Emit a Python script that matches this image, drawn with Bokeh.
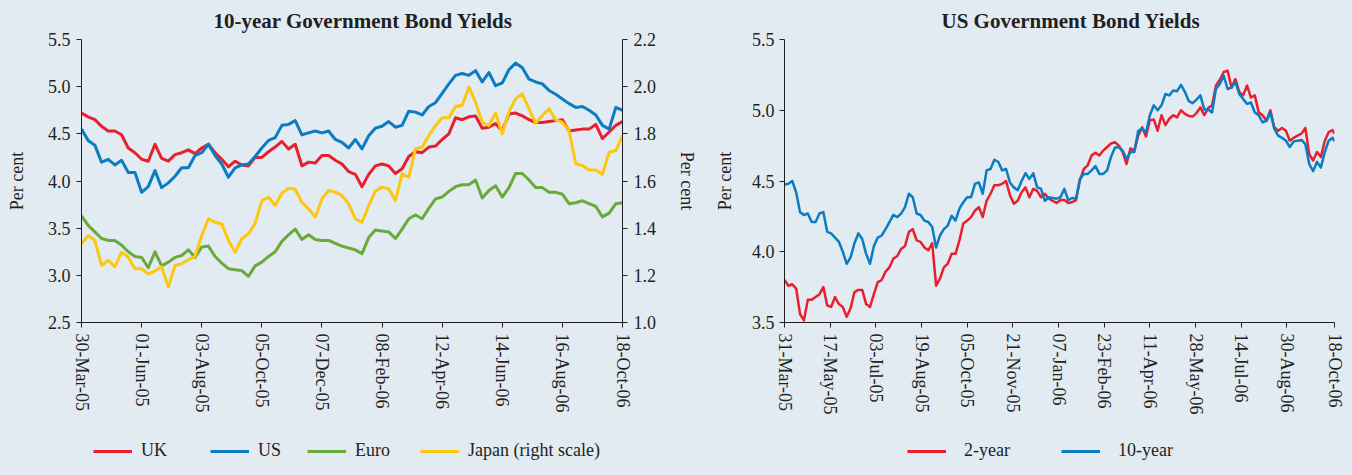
import pandas as pd
from bokeh.plotting import figure
from bokeh.models import (Range1d, LinearAxis, FixedTicker, DatetimeTickFormatter,
                          PrintfTickFormatter, Legend, LegendItem)
from bokeh.layouts import row, column
from bokeh.embed import file_html
from bokeh.resources import INLINE

# ---------------- data ----------------
left_title = "10-year Government Bond Yields"
right_title = "US Government Bond Yields"
left_start = "2005-03-30"          # weekly observations
right_start = "2005-03-31"         # every 4 days
right_last = "2006-10-18"

left_ticks = ["30-Mar-05", "01-Jun-05", "03-Aug-05", "05-Oct-05", "07-Dec-05",
              "08-Feb-06", "12-Apr-06", "14-Jun-06", "16-Aug-06", "18-Oct-06"]
right_ticks = ["31-Mar-05", "17-May-05", "03-Jul-05", "19-Aug-05", "05-Oct-05",
               "21-Nov-05", "07-Jan-06", "23-Feb-06", "11-Apr-06", "28-May-06",
               "14-Jul-06", "30-Aug-06", "18-Oct-06"]
left_yticks = [2.5, 3.0, 3.5, 4.0, 4.5, 5.0, 5.5]
japan_yticks = [1.0, 1.2, 1.4, 1.6, 1.8, 2.0, 2.2]
right_yticks = [3.5, 4.0, 4.5, 5.0, 5.5]

left_labels = ["UK", "US", "Euro", "Japan (right scale)"]
right_labels = ["2-year", "10-year"]

uk = [4.72, 4.68, 4.65, 4.58, 4.53, 4.53, 4.49, 4.35, 4.30, 4.23,
      4.21, 4.39, 4.24, 4.21, 4.28, 4.30, 4.33, 4.29, 4.35, 4.39,
      4.30, 4.23, 4.15, 4.21, 4.17, 4.16, 4.25, 4.25, 4.31, 4.36,
      4.42, 4.34, 4.39, 4.16, 4.20, 4.19, 4.27, 4.27, 4.22, 4.18,
      4.10, 4.07, 3.94, 4.07, 4.16, 4.18, 4.16, 4.08, 4.13, 4.26,
      4.31, 4.30, 4.36, 4.37, 4.44, 4.50, 4.67, 4.65, 4.68, 4.69,
      4.56, 4.57, 4.61, 4.53, 4.71, 4.72, 4.69, 4.65, 4.62, 4.62,
      4.63, 4.64, 4.65, 4.53, 4.54, 4.55, 4.55, 4.60, 4.45, 4.52,
      4.59, 4.63]
us = [4.55, 4.43, 4.38, 4.20, 4.23, 4.17, 4.22, 4.09, 4.09, 3.88,
      3.94, 4.11, 3.93, 3.98, 4.05, 4.14, 4.14, 4.27, 4.30, 4.39,
      4.27, 4.18, 4.04, 4.14, 4.17, 4.18, 4.26, 4.35, 4.43, 4.46,
      4.59, 4.60, 4.64, 4.49, 4.51, 4.53, 4.51, 4.53, 4.44, 4.41,
      4.35, 4.44, 4.34, 4.48, 4.56, 4.58, 4.63, 4.57, 4.59, 4.74,
      4.73, 4.70, 4.79, 4.83, 4.93, 5.03, 5.12, 5.14, 5.12, 5.17,
      5.05, 5.15, 5.01, 5.04, 5.18, 5.25, 5.20, 5.08, 5.05, 5.03,
      4.96, 4.92, 4.87, 4.82, 4.78, 4.79, 4.75, 4.70, 4.59, 4.55,
      4.78, 4.75]
euro = [3.63, 3.53, 3.46, 3.39, 3.37, 3.37, 3.32, 3.25, 3.20, 3.19,
        3.08, 3.25, 3.10, 3.14, 3.19, 3.21, 3.27, 3.19, 3.30, 3.31,
        3.20, 3.13, 3.07, 3.06, 3.05, 2.99, 3.10, 3.14, 3.20, 3.25,
        3.36, 3.43, 3.49, 3.38, 3.43, 3.38, 3.37, 3.37, 3.34, 3.31,
        3.29, 3.27, 3.23, 3.40, 3.48, 3.47, 3.46, 3.39, 3.49, 3.60,
        3.64, 3.60, 3.71, 3.81, 3.83, 3.89, 3.94, 3.96, 3.96, 4.01,
        3.82, 3.90, 3.95, 3.83, 3.93, 4.08, 4.08, 4.01, 3.93, 3.93,
        3.88, 3.88, 3.86, 3.76, 3.77, 3.79, 3.76, 3.73, 3.62, 3.66,
        3.76, 3.77]
japan = [1.334, 1.369, 1.348, 1.242, 1.263, 1.237, 1.298, 1.277, 1.228, 1.228,
         1.206, 1.218, 1.237, 1.150, 1.242, 1.249, 1.266, 1.280, 1.369, 1.440,
         1.425, 1.418, 1.348, 1.298, 1.355, 1.376, 1.421, 1.517, 1.531, 1.496,
         1.548, 1.569, 1.565, 1.510, 1.482, 1.447, 1.524, 1.560, 1.553, 1.538,
         1.503, 1.440, 1.425, 1.496, 1.557, 1.574, 1.567, 1.517, 1.630, 1.616,
         1.736, 1.743, 1.793, 1.835, 1.868, 1.868, 1.916, 1.921, 1.998, 1.934,
         1.849, 1.835, 1.888, 1.800, 1.893, 1.948, 1.970, 1.906, 1.845, 1.878,
         1.906, 1.859, 1.849, 1.814, 1.673, 1.666, 1.647, 1.647, 1.628, 1.722,
         1.729, 1.793]

us_2y = [3.80, 3.76, 3.77, 3.74, 3.56, 3.515, 3.66, 3.66, 3.68, 3.70,
         3.75, 3.62, 3.61, 3.68, 3.63, 3.61, 3.54, 3.60, 3.715, 3.73,
         3.73, 3.63, 3.61, 3.70, 3.785, 3.80, 3.86, 3.89, 3.95, 3.97,
         4.02, 4.04, 4.14, 4.16, 4.08, 4.07, 4.03, 4.01, 4.06, 3.76,
         3.81, 3.89, 3.915, 3.985, 3.985, 4.08, 4.20, 4.22, 4.245, 4.29,
         4.315, 4.245, 4.36, 4.41, 4.47, 4.47, 4.48, 4.50, 4.40, 4.34,
         4.36, 4.42, 4.455, 4.385, 4.445, 4.43, 4.385, 4.41, 4.375, 4.36,
         4.345, 4.365, 4.365, 4.345, 4.35, 4.365, 4.505, 4.585, 4.61, 4.68,
         4.70, 4.68, 4.715, 4.74, 4.765, 4.775, 4.75, 4.705, 4.62, 4.73,
         4.715, 4.82, 4.88, 4.815, 4.93, 4.935, 4.855, 4.965, 4.895, 4.94,
         4.965, 4.95, 5.00, 4.975, 4.96, 4.955, 4.98, 5.02, 4.965, 5.015,
         5.035, 5.175, 5.215, 5.27, 5.28, 5.16, 5.22, 5.13, 5.105, 5.175,
         5.09, 5.105, 4.985, 4.965, 4.925, 5.00, 4.88, 4.855, 4.875, 4.855,
         4.785, 4.805, 4.82, 4.835, 4.875, 4.69, 4.645, 4.705, 4.67, 4.785,
         4.845, 4.86, 4.835]
us_10y = [4.475, 4.48, 4.50, 4.42, 4.28, 4.26, 4.27, 4.21, 4.21, 4.27,
          4.28, 4.14, 4.13, 4.10, 4.07, 4.00, 3.915, 3.96, 4.06, 4.13,
          4.09, 3.985, 3.915, 4.04, 4.10, 4.115, 4.16, 4.21, 4.26, 4.245,
          4.27, 4.315, 4.41, 4.385, 4.27, 4.26, 4.22, 4.21, 4.175, 4.03,
          4.115, 4.16, 4.185, 4.255, 4.22, 4.305, 4.35, 4.385, 4.385, 4.48,
          4.49, 4.41, 4.575, 4.585, 4.65, 4.635, 4.575, 4.585, 4.49, 4.455,
          4.435, 4.50, 4.555, 4.515, 4.555, 4.455, 4.445, 4.36, 4.385, 4.38,
          4.375, 4.385, 4.445, 4.365, 4.38, 4.375, 4.515, 4.55, 4.55, 4.575,
          4.605, 4.55, 4.55, 4.575, 4.67, 4.735, 4.74, 4.715, 4.655, 4.705,
          4.705, 4.855, 4.87, 4.845, 4.965, 5.035, 5.00, 5.035, 5.115, 5.105,
          5.14, 5.135, 5.18, 5.13, 5.065, 5.05, 5.075, 5.105, 5.005, 5.005,
          4.985, 5.15, 5.185, 5.245, 5.15, 5.16, 5.20, 5.115, 5.08, 5.045,
          5.055, 4.985, 4.965, 4.915, 4.925, 4.985, 4.87, 4.82, 4.805, 4.785,
          4.74, 4.78, 4.785, 4.79, 4.76, 4.62, 4.57, 4.635, 4.595, 4.705,
          4.785, 4.805, 4.78]

# ---------------- style ----------------
BG = "#e2eaf2"
INK = "#231f20"
RED = "#e8202e"
BLUE = "#0a7cc1"
GREEN = "#6aaa3a"
YELLOW = "#fcc80f"
FONT = "Liberation Serif"
FS = "18px"
MAIN_H = 430
LEG_H = 45
W1 = 705
W2 = 1352 - W1

left_dates = pd.date_range(left_start, periods=len(uk), freq="7D")
right_dates = pd.date_range(right_start, periods=len(us_2y) - 1, freq="4D").append(
    pd.DatetimeIndex([pd.Timestamp(right_last)]))


def ms(labels):
    return [pd.to_datetime(s, format="%d-%b-%y").timestamp() * 1000 for s in labels]


def date_fmt():
    f = "%d-%b-%y"
    return DatetimeTickFormatter(milliseconds=f, seconds=f, minsec=f, minutes=f, hourmin=f,
                                 hours=f, days=f, months=f, years=f)


def style_axis(ax, standoff=18):
    ax.axis_line_color = INK
    ax.axis_line_width = 1
    ax.major_tick_line_color = INK
    ax.major_tick_in = 0
    ax.major_tick_out = 5
    ax.minor_tick_line_color = None
    ax.major_label_text_font = FONT
    ax.major_label_text_font_size = FS
    ax.major_label_text_color = INK
    ax.major_label_standoff = 6
    ax.axis_label_text_font = FONT
    ax.axis_label_text_font_size = FS
    ax.axis_label_text_font_style = "normal"
    ax.axis_label_text_color = INK
    ax.axis_label_standoff = standoff


def base(width, left, right, title, title_offset, xr_labels, ylo, yhi, yticks):
    x0 = pd.to_datetime(xr_labels[0], format="%d-%b-%y")
    x1 = pd.to_datetime(xr_labels[-1], format="%d-%b-%y")
    p = figure(width=width, height=MAIN_H, x_axis_type="datetime", output_backend="svg",
               toolbar_location=None, x_range=Range1d(x0, x1), y_range=Range1d(ylo, yhi),
               min_border_left=left, min_border_right=right, min_border_top=39,
               min_border_bottom=MAIN_H - 322)
    p.background_fill_color = BG
    p.border_fill_color = BG
    p.outline_line_color = None
    p.xgrid.grid_line_color = None
    p.ygrid.grid_line_color = None
    p.title.text = title
    p.title.align = "left"
    p.title.vertical_align = "top"
    p.title.offset = title_offset
    p.title.standoff = 10
    p.title.text_line_height = 1.0
    p.title.text_font = FONT
    p.title.text_font_size = "21px"
    p.title.text_font_style = "bold"
    p.title.text_color = INK
    p.xaxis.ticker = FixedTicker(ticks=ms(xr_labels))
    p.xaxis.formatter = date_fmt()
    p.xaxis.major_label_orientation = "vertical"
    p.yaxis.ticker = FixedTicker(ticks=yticks)
    p.yaxis.formatter = PrintfTickFormatter(format="%.1f")
    p.yaxis.axis_label = "Per cent"
    return p


def legend_strip(width, entries, standoff):
    """entries: (label, x, y, colour, left offset of key in px)"""
    lp = figure(width=width, height=LEG_H, output_backend="svg", toolbar_location=None,
                x_range=Range1d(0, 1), y_range=Range1d(0, 1),
                x_axis_location=None, y_axis_location=None, min_border=0)
    lp.background_fill_color = BG
    lp.border_fill_color = BG
    lp.outline_line_color = None
    lp.xgrid.grid_line_color = None
    lp.ygrid.grid_line_color = None
    for lab, xs, ys, col, vx in entries:
        # the series itself lies outside this strip's 0-1 range; only its key shows
        key = lp.line(xs, ys, line_color=col, line_width=3)
        lg = Legend(items=[LegendItem(label=lab, renderers=[key])], location=(vx, 14),
                    orientation="horizontal", glyph_width=39, glyph_height=18,
                    label_standoff=standoff, padding=0, margin=0,
                    background_fill_alpha=0, border_line_color=None,
                    label_text_font=FONT, label_text_font_size=FS, label_text_color=INK)
        lp.add_layout(lg)
    return lp


# ---------------- left chart ----------------
p1 = base(W1, 81, W1 - 622, left_title, 132, left_ticks, 2.5, 5.5, left_yticks)
p1.extra_y_ranges = {"jp": Range1d(1.0, 2.2)}
ax_r = LinearAxis(y_range_name="jp", axis_label="Per cent",
                  ticker=FixedTicker(ticks=japan_yticks),
                  formatter=PrintfTickFormatter(format="%.1f"))
p1.add_layout(ax_r, "right")
for ax in [p1.xaxis[0], p1.yaxis[0], ax_r]:
    style_axis(ax, 18)

p1.line(left_dates, uk, line_color=RED, line_width=3, line_join="round")
p1.line(left_dates, us, line_color=BLUE, line_width=3, line_join="round")
p1.line(left_dates, euro, line_color=GREEN, line_width=3, line_join="round")
p1.line(left_dates, japan, line_color=YELLOW, line_width=3, line_join="round",
        y_range_name="jp")
l1 = legend_strip(W1, [(left_labels[0], left_dates, uk, RED, 93),
                       (left_labels[1], left_dates, us, BLUE, 210),
                       (left_labels[2], left_dates, euro, GREEN, 307),
                       (left_labels[3], left_dates, japan, YELLOW, 420)], 9)

# ---------------- right chart ----------------
p2 = base(W2, 784 - W1, 1352 - 1334, right_title, 157, right_ticks, 3.5, 5.5, right_yticks)
for ax in [p2.xaxis[0], p2.yaxis[0]]:
    style_axis(ax, 14)
p2.yaxis[0].major_label_standoff = 5

p2.line(right_dates, us_2y, line_color=RED, line_width=2.5, line_join="round")
p2.line(right_dates, us_10y, line_color=BLUE, line_width=2.5, line_join="round")
l2 = legend_strip(W2, [(right_labels[0], right_dates, us_2y, RED, 907 - W1),
                       (right_labels[1], right_dates, us_10y, BLUE, 1061 - W1)], 18)

layout = column(row(p1, p2, styles={"background-color": BG}),
                row(l1, l2, styles={"background-color": BG}),
                styles={"background-color": BG})
open("out.html", "w").write(file_html(layout, INLINE))
